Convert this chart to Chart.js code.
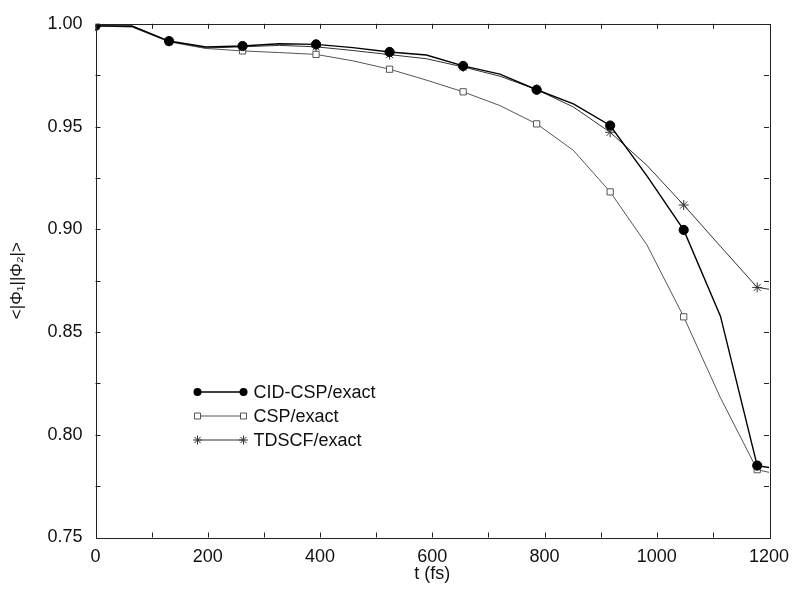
<!DOCTYPE html>
<html>
<head>
<meta charset="utf-8">
<script src="https://cdn.jsdelivr.net/npm/chart.js@4/dist/chart.umd.min.js"></script>
<style>
	html, body { margin: 0; padding: 0; background: #fff; }
	#wrap { width: 792px; height: 591px; }
</style>
</head>
<body>
<div id="wrap"><canvas id="chart" width="792" height="591"></canvas></div>
<script>
// time grid (fs); markers only on every other sample
const times = [0, 65.5, 131, 196.5, 262, 327.5, 393, 458.5, 524, 589.5, 655, 720.5, 786, 851.5, 917, 982.5, 1048, 1113.5, 1179, 1244.5];
const cidCsp = [0.999, 0.9988, 0.9916, 0.9887, 0.9892, 0.9903, 0.9900, 0.9884, 0.9863, 0.9848, 0.9795, 0.9755, 0.9679, 0.9610, 0.9505, 0.9260, 0.8997, 0.8577, 0.7850, 0.7820];
const csp = [0.999, 0.9984, 0.9912, 0.9880, 0.9868, 0.9860, 0.9851, 0.9820, 0.9779, 0.9726, 0.9669, 0.9602, 0.9513, 0.9384, 0.9182, 0.8924, 0.8574, 0.8180, 0.7830, 0.7790];
const tdscf = [0.999, 0.9990, 0.9915, 0.9882, 0.9888, 0.9895, 0.9888, 0.9870, 0.9850, 0.9830, 0.9790, 0.9745, 0.9680, 0.9595, 0.9472, 0.9311, 0.9118, 0.8917, 0.8717, 0.8690];
const seriesNames = ['CID-CSP/exact', 'CSP/exact', 'TDSCF/exact'];
const xTicks = [0, 200, 400, 600, 800, 1000, 1200];
const yTicks = [0.75, 0.80, 0.85, 0.90, 0.95, 1.00];

const FONT = 'Liberation Sans, Arial, Helvetica, sans-serif';

function toPoints(values) {
	return values.map(function(v, i) { return { x: times[i], y: v }; });
}
function markerSizes(r) {
	return times.map(function(t, i) { return i % 2 === 0 ? r : 0; });
}

const styles = [
	{ color: '#000', line: 1.4, pointStyle: 'circle', radius: 4.6, fill: '#000' },
	{ color: '#555', line: 1, pointStyle: 'rect', radius: 4.4, fill: '#fff' },
	{ color: '#333', line: 1, pointStyle: 'star', radius: 5, fill: '#fff' }
];

// inward ticks on all four sides plus frame
const frameTicks = {
	id: 'frameTicks',
	afterDraw(chart) {
		const ctx = chart.ctx;
		const a = chart.chartArea;
		const xs = chart.scales.x, ys = chart.scales.y;
		ctx.save();
		ctx.strokeStyle = '#222';
		ctx.lineWidth = 1;
		ctx.beginPath();
		for (let t = 100; t < 1200; t += 100) {
			const px = Math.round(xs.getPixelForValue(t)) + 0.5;
			ctx.moveTo(px, a.bottom); ctx.lineTo(px, a.bottom - 5);
			ctx.moveTo(px, a.top); ctx.lineTo(px, a.top + 5);
		}
		for (let k = 1; k < 10; k++) {
			const py = Math.round(ys.getPixelForValue(0.75 + k * 0.025)) + 0.5;
			ctx.moveTo(a.left, py); ctx.lineTo(a.left + 5, py);
			ctx.moveTo(a.right, py); ctx.lineTo(a.right - 5, py);
		}
		ctx.stroke();
		ctx.strokeRect(Math.round(a.left) + 0.5, Math.round(a.top) + 0.5, Math.round(a.right - a.left), Math.round(a.bottom - a.top));
		ctx.restore();
	}
};

function drawMarker(ctx, s, x, y) {
	ctx.save();
	ctx.strokeStyle = s.color;
	ctx.fillStyle = s.fill;
	ctx.lineWidth = 1;
	ctx.beginPath();
	if (s.pointStyle === 'circle') {
		ctx.arc(x, y, 4, 0, Math.PI * 2);
		ctx.fill();
	} else if (s.pointStyle === 'rect') {
		ctx.rect(x - 3, y - 3, 6, 6);
		ctx.fill();
		ctx.stroke();
	} else {
		const r = 4.5;
		for (let k = 0; k < 4; k++) {
			const ang = k * Math.PI / 4;
			ctx.moveTo(x - r * Math.cos(ang), y - r * Math.sin(ang));
			ctx.lineTo(x + r * Math.cos(ang), y + r * Math.sin(ang));
		}
		ctx.stroke();
	}
	ctx.restore();
}

// legend drawn as marker-line-marker samples like the original
const sampleLegend = {
	id: 'sampleLegend',
	afterDraw(chart) {
		const ctx = chart.ctx;
		const a = chart.chartArea;
		const x0 = a.left + 102, x1 = a.left + 148;
		seriesNames.forEach(function(name, i) {
			const s = styles[i];
			const y = 392 + i * 24;
			ctx.save();
			ctx.strokeStyle = s.color;
			ctx.lineWidth = s.line;
			ctx.beginPath();
			ctx.moveTo(x0, y); ctx.lineTo(x1, y);
			ctx.stroke();
			ctx.restore();
			drawMarker(ctx, s, x0, y);
			drawMarker(ctx, s, x1, y);
			ctx.save();
			ctx.fillStyle = '#111';
			ctx.font = '18px ' + FONT;
			ctx.textBaseline = 'middle';
			ctx.fillText(name, x1 + 10, y + 1);
			ctx.restore();
		});
	}
};

const datasets = [cidCsp, csp, tdscf].map(function(vals, i) {
	const s = styles[i];
	return {
		label: seriesNames[i],
		data: toPoints(vals),
		borderColor: s.color,
		borderWidth: s.line,
		backgroundColor: s.fill,
		pointBackgroundColor: s.fill,
		pointBorderColor: s.color,
		pointBorderWidth: 1,
		pointStyle: s.pointStyle,
		pointRadius: markerSizes(s.radius),
		tension: 0
	};
});

new Chart(document.getElementById('chart'), {
	type: 'line',
	data: { datasets: datasets },
	options: {
		responsive: false,
		animation: false,
		layout: { padding: { top: 21, right: 23, left: 0, bottom: 0 } },
		plugins: { legend: { display: false }, tooltip: { enabled: false } },
		scales: {
			x: {
				type: 'linear',
				min: 0, max: 1200,
				afterFit(scale) {
					scale.height = 53.5;
					scale.paddingLeft = 0;
					scale.paddingRight = 0;
				},
				afterBuildTicks(scale) { scale.ticks = xTicks.map(function(v) { return { value: v }; }); },
				grid: { display: false, drawTicks: false },
				border: { display: false },
				ticks: {
					color: '#111', padding: 9, maxRotation: 0,
					font: { family: FONT, size: 18 },
					callback: function(v) { return String(v); }
				},
				title: { display: true, text: 't (fs)', color: '#111', padding: { top: 0, bottom: 6 }, font: { family: FONT, size: 18 } }
			},
			y: {
				min: 0.75, max: 1.0,
				afterFit(scale) { scale.width = 95.5; },
				afterBuildTicks(scale) { scale.ticks = yTicks.map(function(v) { return { value: v }; }); },
				grid: { display: false, drawTicks: false },
				border: { display: false },
				ticks: {
					color: '#111', padding: 13,
					font: { family: FONT, size: 18 },
					callback: function(v) { return v.toFixed(2); }
				},
				title: { display: true, text: '<|Φ₁||Φ₂|>', color: '#111', padding: { top: 7, bottom: 0 }, font: { family: FONT, size: 17 } }
			}
		}
	},
	plugins: [frameTicks, sampleLegend]
});
</script>
</body>
</html>
